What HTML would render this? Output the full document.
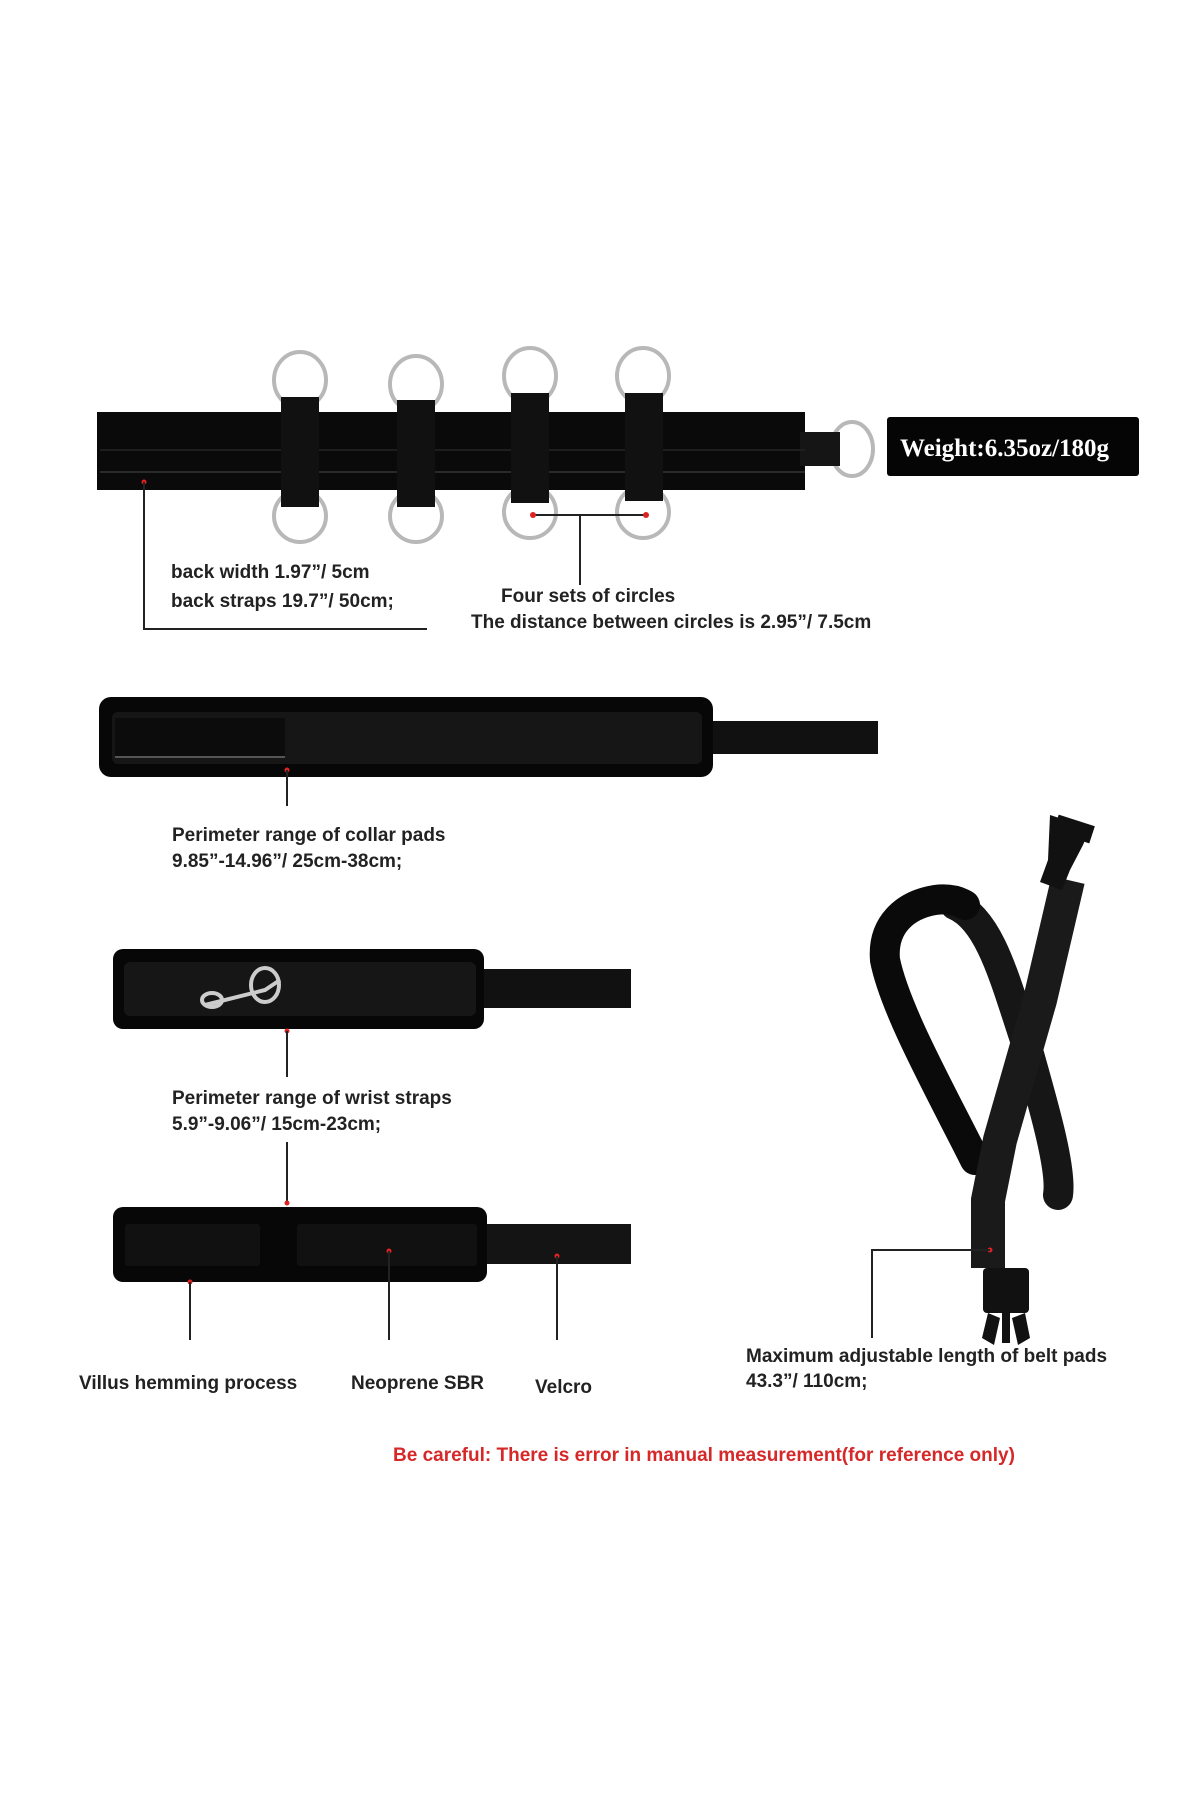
<!DOCTYPE html>
<html><head><meta charset="utf-8"><style>
html,body{margin:0;padding:0;background:#fff}
svg{display:block}
text{font-family:"Liberation Sans",sans-serif;fill:#222;font-weight:bold}
</style></head><body>
<svg width="1200" height="1800" viewBox="0 0 1200 1800" xmlns="http://www.w3.org/2000/svg">
<g fill="none" stroke="#b8b8b8" stroke-width="4">
<ellipse cx="300" cy="380" rx="26" ry="28"/>
<ellipse cx="416" cy="384" rx="26" ry="28"/>
<ellipse cx="530" cy="376" rx="26" ry="28"/>
<ellipse cx="643" cy="376" rx="26" ry="28"/>
<ellipse cx="300" cy="516" rx="26" ry="26"/>
<ellipse cx="416" cy="516" rx="26" ry="26"/>
<ellipse cx="530" cy="512" rx="26" ry="26"/>
<ellipse cx="643" cy="512" rx="26" ry="26"/>
<ellipse cx="852" cy="449" rx="21" ry="27"/>
</g>
<rect x="97" y="412" width="708" height="78" fill="#0a0a0a"/>
<rect x="800" y="432" width="40" height="34" fill="#151515"/>
<line x1="100" y1="450" x2="805" y2="450" stroke="#1e1e1e" stroke-width="2"/>
<line x1="100" y1="472" x2="805" y2="472" stroke="#2a2a2a" stroke-width="2"/>
<g fill="#111">
<rect x="281" y="397" width="38" height="110"/>
<rect x="397" y="400" width="38" height="107"/>
<rect x="511" y="393" width="38" height="110"/>
<rect x="625" y="393" width="38" height="108"/>
</g>
<circle cx="144" cy="482" r="2.5" fill="#d22"/>
<polyline points="144,482 144,629 427,629" fill="none" stroke="#222" stroke-width="2"/>
<text x="171" y="578" font-size="19">back width 1.97”/ 5cm</text>
<text x="171" y="607" font-size="19">back straps 19.7”/ 50cm;</text>
<line x1="533" y1="515" x2="646" y2="515" stroke="#222" stroke-width="2"/>
<circle cx="533" cy="515" r="3" fill="#d22"/><circle cx="646" cy="515" r="3" fill="#d22"/>
<line x1="580" y1="515" x2="580" y2="585" stroke="#222" stroke-width="2"/>
<text x="501" y="602" font-size="19">Four sets of circles</text>
<text x="471" y="628" font-size="19">The distance between circles is 2.95”/ 7.5cm</text>
<rect x="887" y="417" width="252" height="59" rx="3" fill="#050505"/>
<text x="900" y="456" font-size="25" style="font-family:'Liberation Serif',serif;fill:#fff">Weight:6.35oz/180g</text>

<rect x="680" y="721" width="198" height="33" fill="#111"/>
<rect x="99" y="697" width="614" height="80" rx="12" fill="#070707"/>
<rect x="112" y="712" width="590" height="52" rx="6" fill="#161616"/>
<rect x="115" y="718" width="170" height="40" fill="#0c0c0c"/>
<line x1="115" y1="757" x2="285" y2="757" stroke="#555" stroke-width="2"/>
<circle cx="287" cy="770" r="2.5" fill="#d22"/>
<line x1="287" y1="770" x2="287" y2="806" stroke="#222" stroke-width="2"/>
<text x="172" y="841" font-size="19">Perimeter range of collar pads</text>
<text x="172" y="867" font-size="19">9.85”-14.96”/ 25cm-38cm;</text>

<rect x="470" y="969" width="161" height="39" fill="#111"/>
<rect x="113" y="949" width="371" height="80" rx="10" fill="#070707"/>
<rect x="124" y="962" width="352" height="54" rx="6" fill="#161616"/>
<g fill="none" stroke="#ccc" stroke-width="4">
<path d="M205,1005 L265,990 L280,980"/>
<ellipse cx="265" cy="985" rx="14" ry="17"/>
<ellipse cx="212" cy="1000" rx="10" ry="7"/>
</g>
<circle cx="287" cy="1031" r="2.5" fill="#d22"/>
<line x1="287" y1="1031" x2="287" y2="1077" stroke="#222" stroke-width="2"/>
<text x="172" y="1104" font-size="19">Perimeter range of wrist straps</text>
<text x="172" y="1130" font-size="19">5.9”-9.06”/ 15cm-23cm;</text>
<line x1="287" y1="1142" x2="287" y2="1203" stroke="#222" stroke-width="2"/>
<circle cx="287" cy="1203" r="2.5" fill="#d22"/>

<rect x="470" y="1224" width="161" height="40" fill="#141414"/>
<rect x="113" y="1207" width="374" height="75" rx="10" fill="#070707"/>
<rect x="125" y="1224" width="135" height="42" rx="3" fill="#111"/>
<rect x="297" y="1224" width="180" height="42" rx="3" fill="#111"/>
<circle cx="190" cy="1282" r="2.5" fill="#d22"/>
<circle cx="389" cy="1251" r="2.5" fill="#d22"/>
<circle cx="557" cy="1256" r="2.5" fill="#d22"/>
<g stroke="#222" stroke-width="2">
<line x1="190" y1="1282" x2="190" y2="1340"/>
<line x1="389" y1="1251" x2="389" y2="1340"/>
<line x1="557" y1="1256" x2="557" y2="1340"/>
</g>
<text x="79" y="1389" font-size="19">Villus hemming process</text>
<text x="351" y="1389" font-size="19">Neoprene SBR</text>
<text x="535" y="1393" font-size="19">Velcro</text>

<g fill="none">
<path d="M955,905 C990,920 1005,980 1025,1040 C1045,1110 1062,1170 1058,1195" stroke="#161616" stroke-width="30" stroke-linecap="round"/>
<path d="M975,1160 C940,1090 895,1010 885,960 C882,925 905,905 935,900 C950,898 960,902 965,905" stroke="#0a0a0a" stroke-width="30" stroke-linecap="round"/>
<path d="M1068,880 L1040,1000 L1000,1140 L988,1200 L988,1268" stroke="#1a1a1a" stroke-width="34"/>
</g>
<path d="M1050,815 L1090,828 L1083,845 L1070,870 L1062,890 L1040,882 L1048,860 Z" fill="#111"/>
<rect x="1055" y="820" width="38" height="18" fill="#111" transform="rotate(18 1074 829)"/>
<rect x="983" y="1268" width="46" height="45" rx="4" fill="#111"/>
<path d="M988,1313 L982,1338 L994,1345 L1000,1318 Z M1025,1313 L1030,1338 L1018,1345 L1012,1318 Z" fill="#111"/>
<rect x="1002" y="1313" width="8" height="30" fill="#111"/>
<circle cx="990" cy="1250" r="2.5" fill="#d22"/>
<polyline points="990,1250 872,1250 872,1338" fill="none" stroke="#222" stroke-width="2"/>
<text x="746" y="1362" font-size="19">Maximum adjustable length of belt pads</text>
<text x="746" y="1387" font-size="19">43.3”/ 110cm;</text>

<text x="393" y="1461" font-size="19" style="fill:#d62828">Be careful: There is error in manual measurement(for reference only)</text>
</svg>
</body></html>
